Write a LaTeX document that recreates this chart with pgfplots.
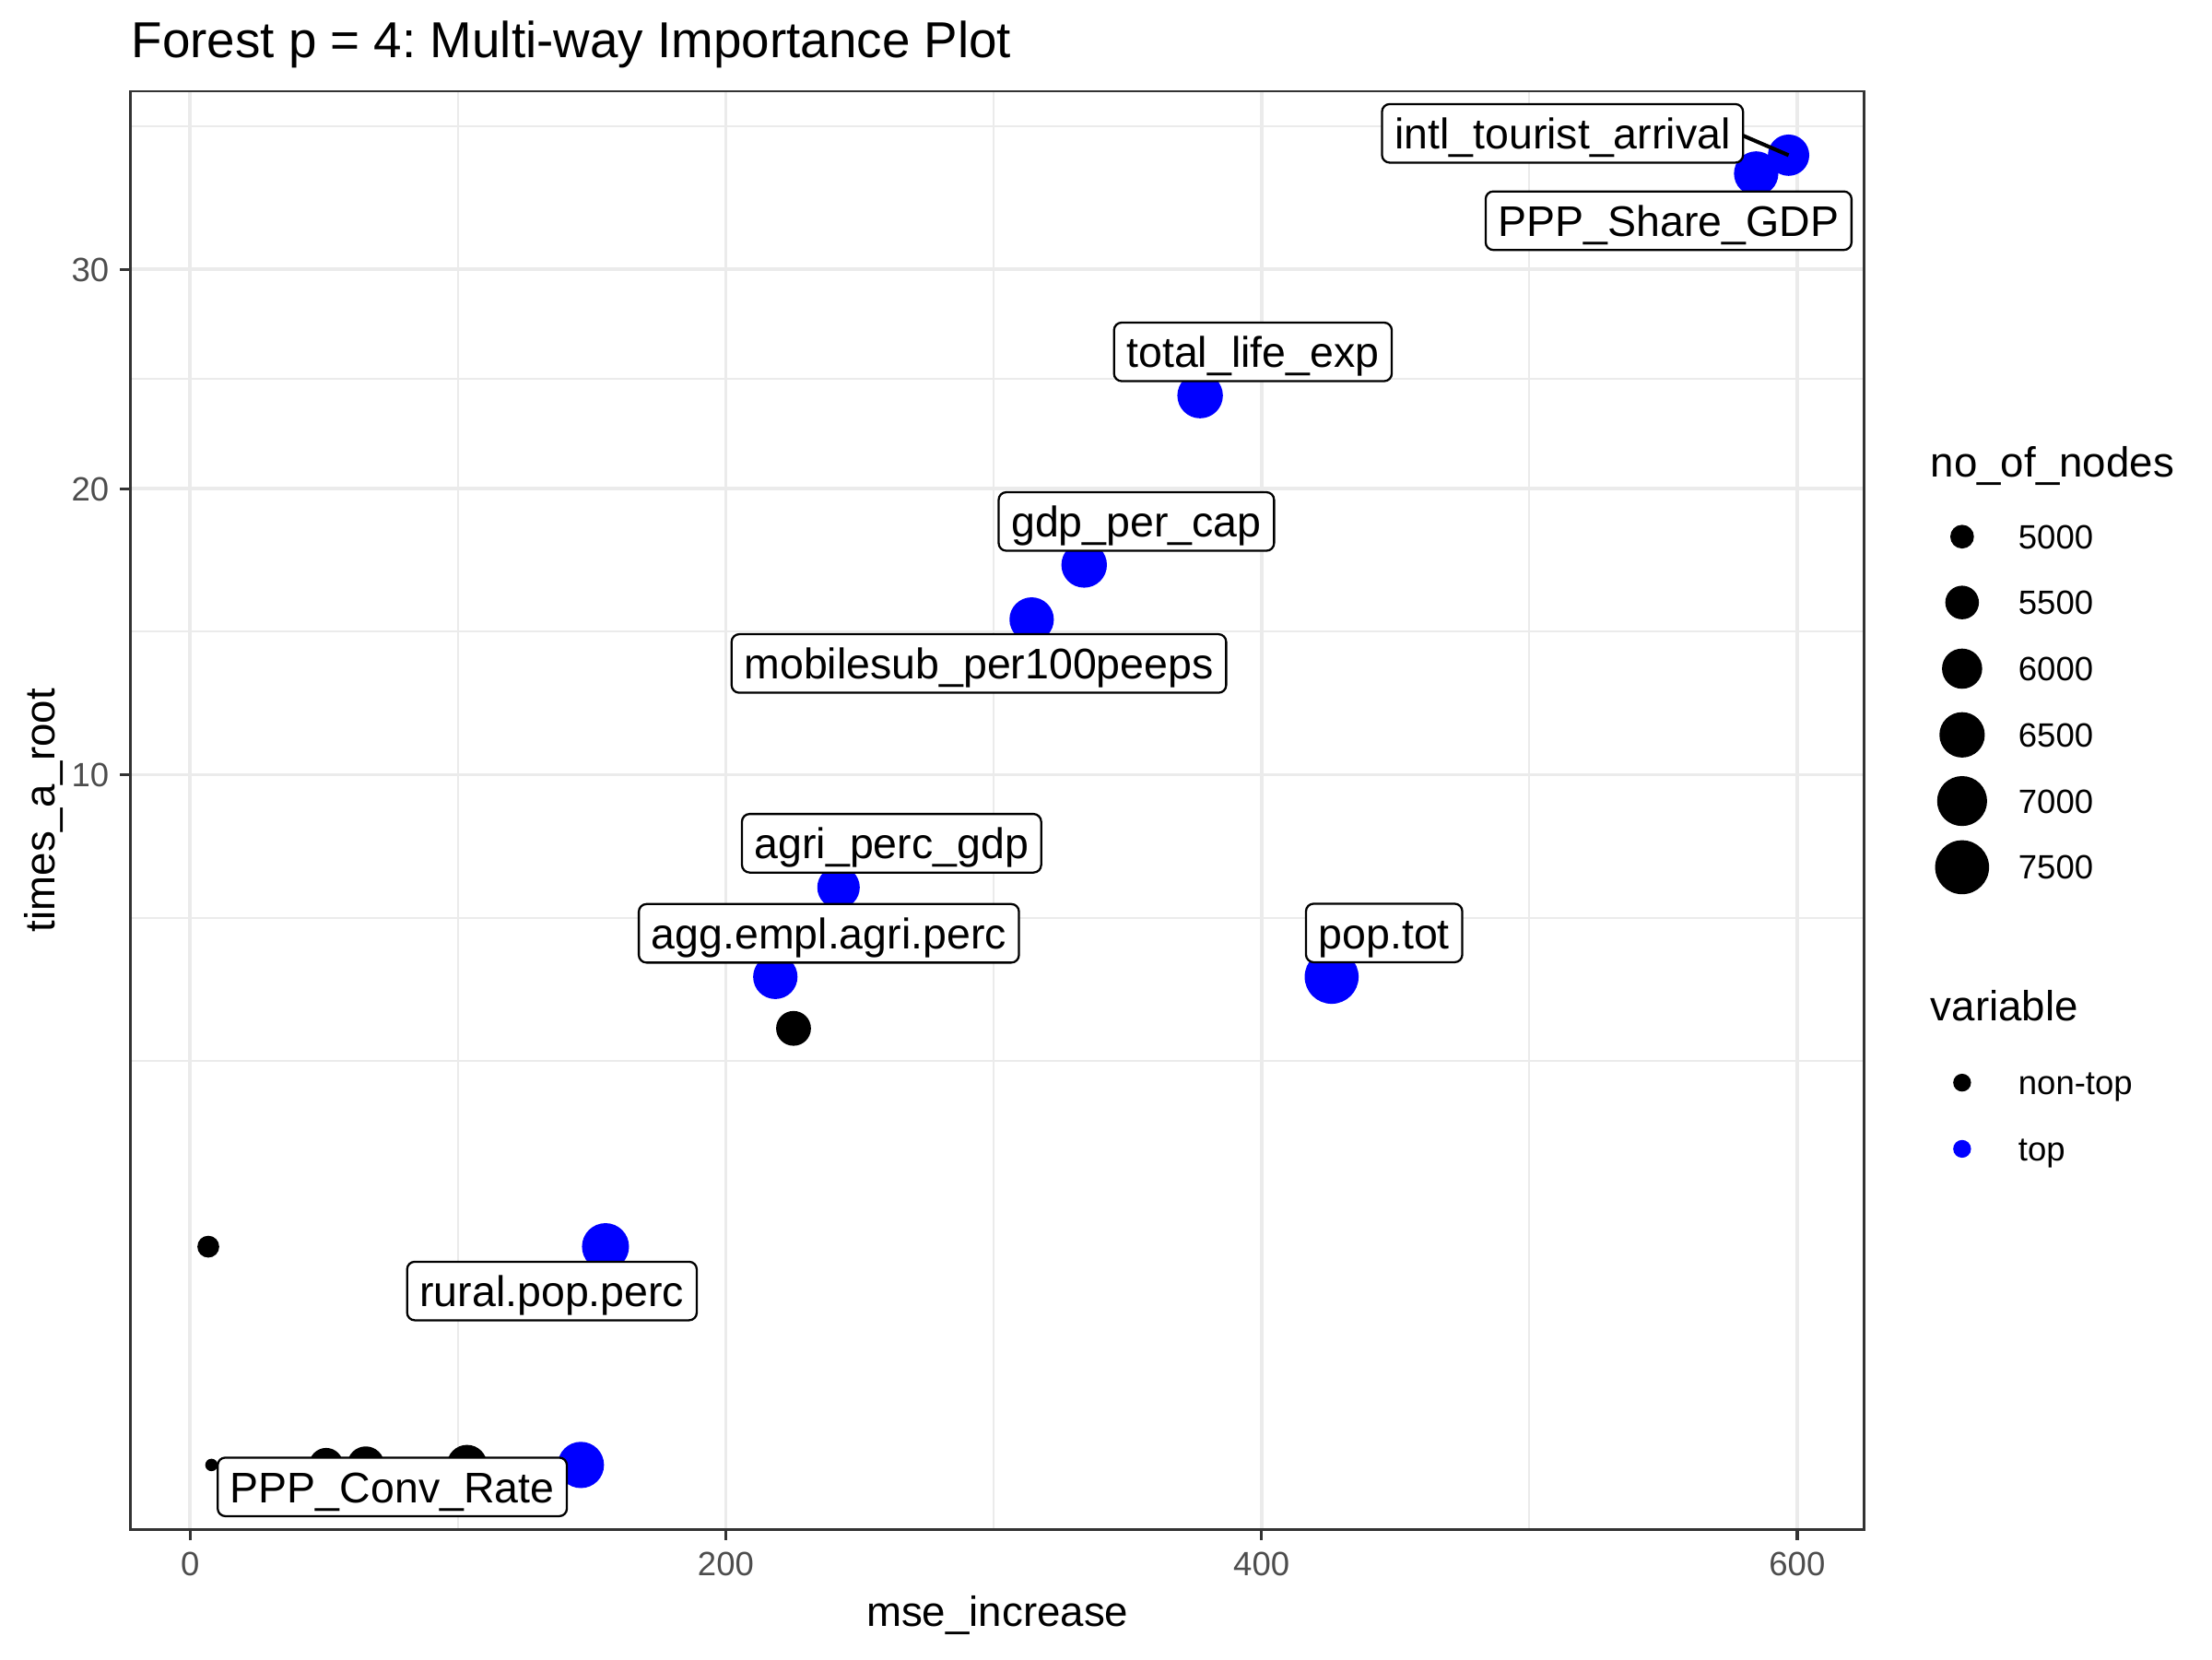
\documentclass[border=0pt]{standalone}
\usepackage{fontspec}
\setmainfont{Liberation Sans}
\usepackage{pgfplots}
\pgfplotsset{compat=1.18}
\definecolor{grey92}{RGB}{235,235,235}
\definecolor{grey20}{RGB}{51,51,51}
\definecolor{grey30}{RGB}{77,77,77}
\tikzset{lab/.style={draw=black, line width=0.55pt, fill=white, rounded corners=2pt,
  inner xsep=3.3pt, inner ysep=3.3pt, text height=8.4pt, text depth=0.3pt,
  font=\fontsize{11.2}{13}\selectfont, anchor=center}}
\begin{document}
\frenchspacing
\begin{tikzpicture}
\path[use as bounding box] (-34.14pt,-33.85pt) rectangle (544.02pt,399.77pt);
\begin{axis}[
  at={(0,0)}, anchor=south west,
  scale only axis, width=453.09pt, height=375.95pt,
  xmin=-22.2, xmax=625.0,
  ymin=-0.0876, ymax=39.61,
  y coord trafo/.code={\pgfmathparse{sqrt(abs(#1))*(1-2*(#1<0))}},
  y coord inv trafo/.code={\pgfmathparse{#1*abs(#1)}},
  xtick={0,200,400,600}, xticklabels={0,200,400,600},
  ytick={10,20,30}, yticklabels={10,20,30},
  minor xtick={100,300,500},
  minor ytick={3.430,6.285,14.57,24.75,37.60},
  grid=both,
  major grid style={draw=grey92, line width=0.9pt},
  minor grid style={draw=grey92, line width=0.45pt},
  tick align=outside, major tick length=2.75pt, minor tick length=0pt,
  xtick pos=bottom, ytick pos=left,
  tick style={draw=grey20, line width=0.8pt},
  axis line style={draw=grey20, line width=0.6pt},
  xticklabel shift=2.9pt, yticklabel shift=2.7pt,
  xticklabel style={font=\fontsize{8.8}{10}\selectfont, text=grey30, inner sep=0pt, text height=6.3pt, text depth=0pt, anchor=north},
  yticklabel style={font=\fontsize{8.8}{10}\selectfont, text=grey30, inner sep=0pt, text height=6.3pt, text depth=0pt, anchor=east},
]
% non-top variables
\addplot[only marks, mark=*, scatter,
  scatter/use mapped color={draw=black, fill=black},
  visualization depends on={value \thisrow{n}\as\nn},
  scatter/@pre marker code/.append style={/tikz/mark size={(3.25+0.2089*sqrt(\nn-4800))/2-0.2}},
] table {
x y n
8.0 0 4800
50.8 0 5531
65.6 0 5753
103.4 0 6004
6.8 1 4938
225.3 4 5584
};
% top variables
\addplot[only marks, mark=*, scatter,
  scatter/use mapped color={draw=blue, fill=blue},
  visualization depends on={value \thisrow{n}\as\nn},
  scatter/@pre marker code/.append style={/tikz/mark size={(3.25+0.2089*sqrt(\nn-4800))/2-0.2}},
] table {
x y n
145.9 0 6595
155.1 1 6677
218.5 5 6398
426.2 5 7498
242.1 7 6212
314.2 15 6398
333.8 17 6515
377.1 24 6515
584.7 35 6398
596.8 36 6106
};
\coordinate (L1) at (axis cs:512.4,37.21);
\coordinate (L2) at (axis cs:552.0,32.49);
\coordinate (L3) at (axis cs:396.8,26.00);
\coordinate (L4) at (axis cs:353.3,18.68);
\coordinate (L5) at (axis cs:294.5,13.48);
\coordinate (L6) at (axis cs:261.9,8.111);
\coordinate (L7) at (axis cs:238.5,5.931);
\coordinate (L8) at (axis cs:445.8,5.939);
\coordinate (L9) at (axis cs:135.1,0.6350);
\coordinate (L10) at (axis cs:75.5,-0.0101);
\coordinate (S1a) at (axis cs:579.7,37.09);
\coordinate (S1b) at (axis cs:596.8,36);
\end{axis}
% label segment
\draw[line width=1pt] (S1a) -- (S1b);
% labels
\node[lab] at (L1) {intl\_tourist\_arrival};
\node[lab] at (L2) {PPP\_Share\_GDP};
\node[lab] at (L3) {total\_life\_exp};
\node[lab] at (L4) {gdp\_per\_cap};
\node[lab] at (L5) {mobilesub\_per100peeps};
\node[lab] at (L6) {agri\_perc\_gdp};
\node[lab] at (L7) {agg.empl.agri.perc};
\node[lab] at (L8) {pop.tot};
\node[lab] at (L9) {rural.pop.perc};
\node[lab] at (L10) {PPP\_Conv\_Rate};
% titles
\node[anchor=base west, inner sep=0pt, font=\fontsize{13.2}{15}\selectfont] at (0pt,384.8pt) {Forest p = 4: Multi-way Importance Plot};
\node[anchor=base, inner sep=0pt, font=\fontsize{11}{13}\selectfont] at (226.55pt,-25.4pt) {mse\_increase};
\node[anchor=base, inner sep=0pt, rotate=90, font=\fontsize{11}{13}\selectfont] at (-19.85pt,187.98pt) {times\_a\_root};
% legend: no_of_nodes
\node[anchor=base west, inner sep=0pt, font=\fontsize{11}{13}\selectfont] at (470.3pt,275.1pt) {no\_of\_nodes};
\fill (478.7pt,259.5pt) circle (3.10pt);
\fill (478.7pt,242.3pt) circle (4.39pt);
\fill (478.7pt,225.0pt) circle (5.25pt);
\fill (478.7pt,207.7pt) circle (5.93pt);
\fill (478.7pt,190.4pt) circle (6.53pt);
\fill (478.7pt,173.1pt) circle (7.05pt);
\begin{scope}[every node/.style={anchor=base west, inner sep=0pt, font=\fontsize{8.8}{10}\selectfont}]
\node at (493.2pt,256.35pt) {5000};
\node at (493.2pt,239.15pt) {5500};
\node at (493.2pt,221.85pt) {6000};
\node at (493.2pt,204.55pt) {6500};
\node at (493.2pt,187.25pt) {7000};
\node at (493.2pt,169.95pt) {7500};
\node at (493.2pt,113.65pt) {non-top};
\node at (493.2pt,96.35pt) {top};
\end{scope}
% legend: variable
\node[anchor=base west, inner sep=0pt, font=\fontsize{11}{13}\selectfont] at (470.3pt,132.9pt) {variable};
\fill[black] (478.7pt,116.8pt) circle (2.33pt);
\fill[blue] (478.7pt,99.5pt) circle (2.33pt);
\end{tikzpicture}
\end{document}
